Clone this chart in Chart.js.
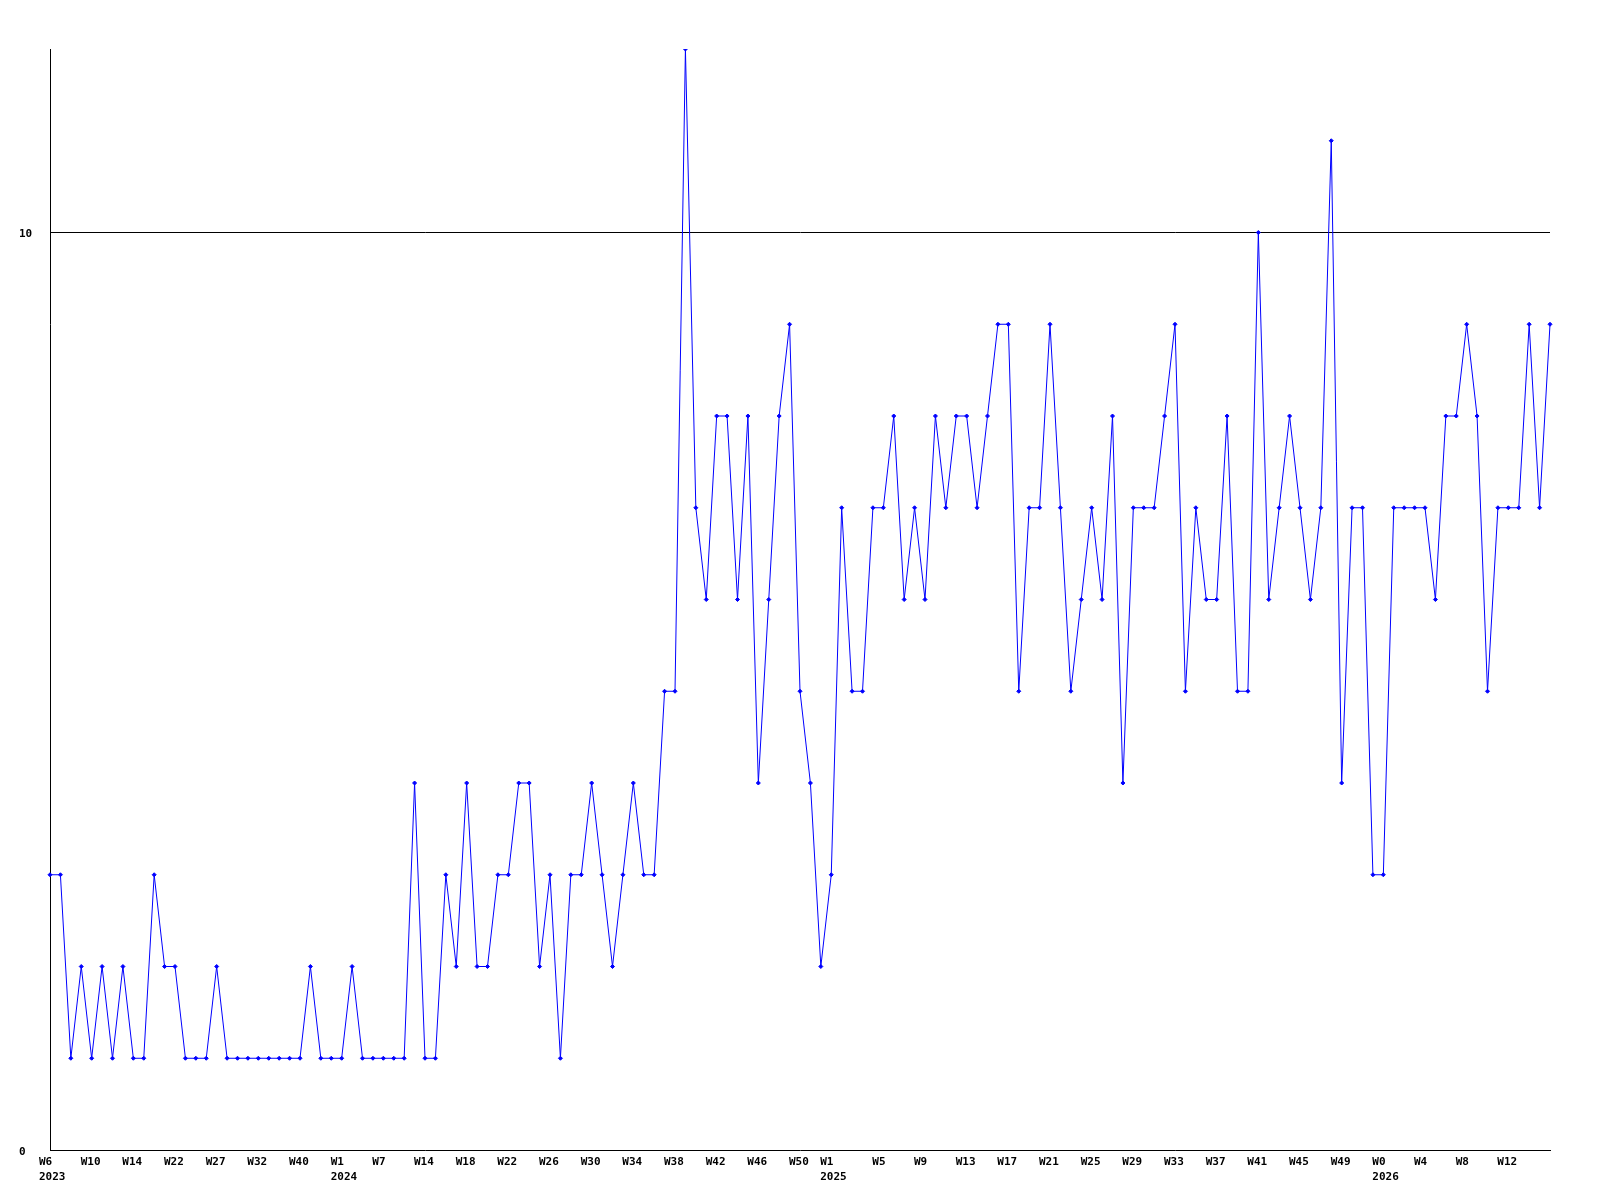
<!DOCTYPE html>
<html>
<head>
<meta charset="utf-8">
<script src="https://cdn.jsdelivr.net/npm/chart.js@4.4.1/dist/chart.umd.min.js"></script>
<style>
  html, body { margin: 0; padding: 0; background: #fff; }
  #wrap { width: 1600px; height: 1200px; }
</style>
</head>
<body>
<div id="wrap"><canvas id="weekly" width="1600" height="1200"></canvas></div>
<script>
// weekly counts, one value per plotted week
const counts = [
  3, 3, 1, 2, 1, 2, 1, 2, 1, 1,
  3, 2, 2, 1, 1, 1, 2, 1, 1, 1,
  1, 1, 1, 1, 1, 2, 1, 1, 1, 2,
  1, 1, 1, 1, 1, 4, 1, 1, 3, 2,
  4, 2, 2, 3, 3, 4, 4, 2, 3, 1,
  3, 3, 4, 3, 2, 3, 4, 3, 3, 5,
  5, 12, 7, 6, 8, 8, 6, 8, 4, 6,
  8, 9, 5, 4, 2, 3, 7, 5, 5, 7,
  7, 8, 6, 7, 6, 8, 7, 8, 8, 7,
  8, 9, 9, 5, 7, 7, 9, 7, 5, 6,
  7, 6, 8, 4, 7, 7, 7, 8, 9, 5,
  7, 6, 6, 8, 5, 5, 10, 6, 7, 8,
  7, 6, 7, 11, 4, 7, 7, 3, 3, 7,
  7, 7, 7, 6, 8, 8, 9, 8, 5, 7,
  7, 7, 9, 7, 9
];

// x tick labels and the point index each one sits on
const tickIndex = [
  0, 4, 8, 12, 16, 20, 24, 28, 32, 36,
  40, 44, 48, 52, 56, 60, 64, 68, 72, 75,
  80, 84, 88, 92, 96, 100, 104, 108, 112, 116,
  120, 124, 128, 132, 136, 140
];
const weekTicks = [
  'W6', 'W10', 'W14', 'W22', 'W27', 'W32', 'W40', 'W1', 'W7', 'W14',
  'W18', 'W22', 'W26', 'W30', 'W34', 'W38', 'W42', 'W46', 'W50', 'W1',
  'W5', 'W9', 'W13', 'W17', 'W21', 'W25', 'W29', 'W33', 'W37', 'W41',
  'W45', 'W49', 'W0', 'W4', 'W8', 'W12'
];
// year line under the first tick of each year
const yearTicks = [
  '2023', '', '', '', '', '', '', '2024', '', '',
  '', '', '', '', '', '', '', '', '', '2025',
  '', '', '', '', '', '', '', '', '', '',
  '', '', '2026', '', '', ''
];
const yTicks = [0, 10];
const yMax = 12;

const categories = counts.map((_, i) => i);
const font = { family: '"DejaVu Sans Mono", monospace', size: 11, weight: 'bold', lineHeight: 1.4 };

new Chart(document.getElementById('weekly').getContext('2d'), {
  type: 'line',
  data: {
    labels: categories,
    datasets: [{
      data: counts,
      borderColor: '#0000ff',
      backgroundColor: '#0000ff',
      borderWidth: 1,
      tension: 0,
      pointStyle: 'rectRot',
      pointRadius: 2,
      pointBorderWidth: 1,
      pointBackgroundColor: '#0000ff',
      pointBorderColor: '#0000ff'
    }]
  },
  options: {
    responsive: false,
    animation: false,
    layout: { padding: { left: 19, right: 50, top: 49, bottom: 0 } },
    plugins: {
      legend: { display: false },
      tooltip: { enabled: false }
    },
    scales: {
      x: {
        type: 'category',
        offset: false,
        afterFit: (scale) => { scale.height = 50; },
        grid: { display: false, drawTicks: false },
        border: { display: true, color: '#000', width: 1 },
        ticks: {
          autoSkip: false,
          maxRotation: 0,
          minRotation: 0,
          align: 'start',
          labelOffset: -11,
          padding: 4,
          color: '#000',
          font: font,
          callback: (value, index) => {
            const k = tickIndex.indexOf(index);
            if (k < 0) return '';
            return yearTicks[k] ? [weekTicks[k], yearTicks[k]] : weekTicks[k];
          }
        }
      },
      y: {
        min: 0,
        max: yMax,
        afterBuildTicks: (scale) => { scale.ticks = yTicks.map(v => ({ value: v })); },
        afterFit: (scale) => { scale.width = 31; },
        grid: {
          drawTicks: false,
          color: (ctx) => ctx.tick && ctx.tick.value === 10 ? '#000' : 'rgba(0,0,0,0)',
          lineWidth: 1
        },
        border: { display: true, color: '#000', width: 1 },
        ticks: {
          crossAlign: 'far',
          padding: 4,
          labelOffset: 2,
          color: '#000',
          font: font
        }
      }
    }
  }
});
</script>
</body>
</html>
